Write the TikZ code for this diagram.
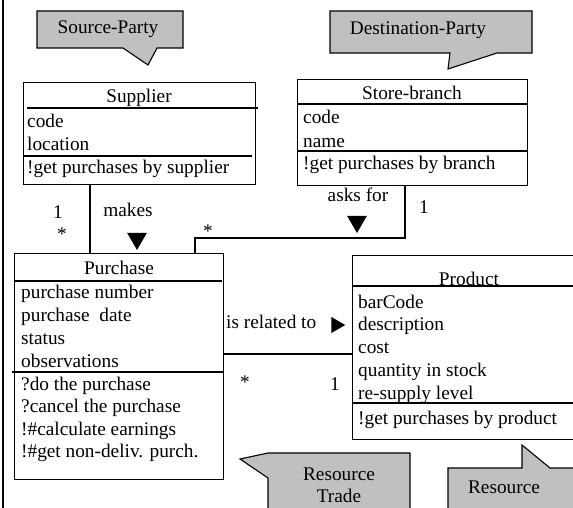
\documentclass[tikz,border=0pt]{standalone}
\usepackage{fontspec}
\setmainfont{Liberation Serif}
\usetikzlibrary{shapes.geometric}
\definecolor{notegray}{RGB}{192,192,192}
\newcommand{\umlfont}{\fontsize{19.3}{22.7}\selectfont}
\tikzset{
  cls/.style={draw, line width=1.3pt, rectangle, inner sep=0pt, anchor=north west},
  txt/.style={inner sep=0pt, font=\umlfont},
  attr/.style={txt, anchor=base west},
  note/.style={draw, line width=1.1pt, fill=notegray},
  tri/.style={regular polygon, regular polygon sides=3, fill=black, inner sep=0pt},
  assoc/.style={draw, line width=1.3pt, -}
}
\begin{document}
\begin{tikzpicture}[x=1pt,y=-1pt]
\useasboundingbox (0,0) rectangle (573,508);
\draw[line width=2pt] (3,-5) -- (3,515);

\draw[note] (37,11) -- (183,11) -- (183,48) -- (157,48) -- (148,65) -- (123,48) -- (37,48) -- cycle;
\node[txt, anchor=base] (srcp) at (108,34) {Source-Party};
\draw[note] (330,11) -- (532,11) -- (532,53) -- (497,53) -- (448,69) -- (450,53) -- (330,53) -- cycle;
\node[txt, anchor=base] (dstp) at (418,35) {Destination-Party};
\draw[note] (240,459) -- (268,453) -- (410,453) -- (410,520) -- (268,520) -- (268,478) -- cycle;
\node[txt, anchor=base] (rtr1) at (339,480) {Resource};
\node[txt, anchor=base] (rtr2) at (339,502) {Trade};
\draw[note] (448,468) -- (522,468) -- (522,445) -- (550,468) -- (590,468) -- (590,520) -- (448,520) -- cycle;
\node[txt, anchor=base] (res) at (504,493) {Resource};

\node[cls, minimum width=232pt, minimum height=102pt] (sup) at (23,82) {};
\node[txt, anchor=base] (sup-t) at (139,103) {Supplier};
\draw[line width=1.3pt] (27,108) -- (258,108);
\node[attr] (sup-a1) at (27,128) {code};
\node[attr] (sup-a2) at (27,150) {location};
\draw[line width=1.3pt] (23,156) -- (252,156);
\node[attr] (sup-m1) at (27,173) {!get purchases by supplier};

\node[cls, minimum width=230pt, minimum height=106pt] (st) at (297,79) {};
\node[txt, anchor=base] (st-t) at (412,100) {Store-branch};
\draw[line width=1.3pt] (297,104) -- (528,104);
\node[attr] (st-a1) at (303,124) {code};
\node[attr] (st-a2) at (303,147) {name};
\draw[line width=1.3pt] (297,151) -- (527,151);
\node[attr] (st-m1) at (303,170) {!get purchases by branch};

\node[cls, minimum width=209pt, minimum height=226pt] (pur) at (14,253) {};
\node[txt, anchor=base] (pur-t) at (119,274) {Purchase};
\draw[line width=1.3pt] (15,281) -- (222,281);
\node[attr] (pur-a1) at (21,298) {purchase number};
\node[attr] (pur-a2) at (21,321) {purchase\ \ date};
\node[attr] (pur-a3) at (21,344) {status};
\node[attr] (pur-a4) at (21,367) {observations};
\draw[line width=1.3pt] (12,372) -- (223,372);
\node[attr] (pur-m1) at (21,390) {?do the purchase};
\node[attr] (pur-m2) at (21,412) {?cancel the purchase};
\node[attr] (pur-m3) at (21,435) {!\#calculate earnings};
\node[attr] (pur-m4) at (21,457) {!\#get non-deliv. purch.};

\node[cls, minimum width=234pt, minimum height=184pt] (prod) at (352,255) {};
\node[txt, anchor=base] (prod-t) at (469,285) {Product};
\draw[line width=1.3pt] (352,286) -- (586,286);
\node[attr] (prod-a1) at (358,308) {barCode};
\node[attr] (prod-a2) at (358,330) {description};
\node[attr] (prod-a3) at (358,353) {cost};
\node[attr] (prod-a4) at (358,376) {quantity in stock};
\node[attr] (prod-a5) at (358,399) {re-supply level};
\draw[line width=1.3pt] (352,403) -- (586,403);
\node[attr] (prod-m1) at (358,424) {!get purchases by product};

\coordinate (sp) at (90,0);
\path[assoc] (sup.south -| sp) -- (pur.north -| sp);
\node[txt, anchor=base] (m-sup) at (58,218) {1};
\node[txt, anchor=base] (m-pur1) at (62,240) {*};
\node[txt, anchor=base] (mk) at (128,216) {makes};
\node[tri, minimum size=23pt, regular polygon rotate=180] (mk-tri) at (137,238.5) {};

\coordinate (sb) at (405,238);
\coordinate (pb) at (195,238);
\path[assoc] (st.south -| sb) -- (sb) -- (pb) -- (pur.north -| pb);
\node[txt, anchor=base] (m-st) at (424,213) {1};
\node[txt, anchor=base] (m-pur2) at (208,237) {*};
\node[txt, anchor=base] (ask) at (358,201) {asks for};
\node[tri, minimum size=23pt, regular polygon rotate=180] (ask-tri) at (357,221.5) {};

\coordinate (pp) at (0,354);
\path[assoc] (pur.east |- pp) -- (prod.west |- pp);
\node[txt, anchor=base west] (rel) at (226,328) {is related to};
\node[tri, minimum size=18.5pt, regular polygon rotate=-90] (rel-tri) at (336,325) {};
\node[txt, anchor=base] (m-pur3) at (245,388) {*};
\node[txt, anchor=base] (m-prod) at (335,390) {1};
\end{tikzpicture}
\end{document}
